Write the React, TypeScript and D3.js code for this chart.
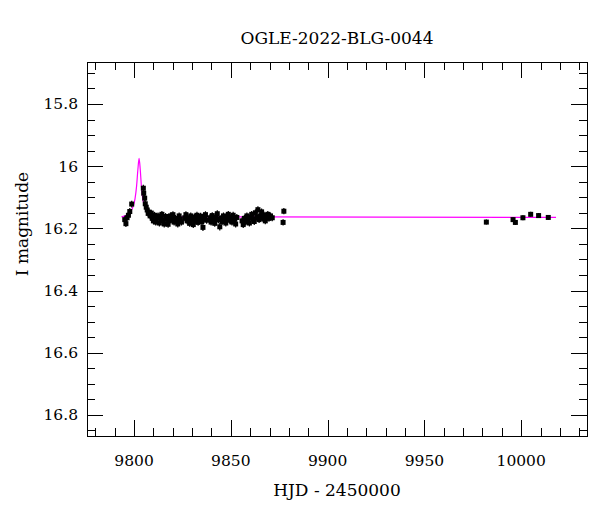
import React, { useEffect, useRef } from 'react';
import * as d3 from 'd3';

const title = 'OGLE-2022-BLG-0044';
const xLabel = 'HJD - 2450000';
const yLabel = 'I magnitude';

const xTicks = [9800, 9850, 9900, 9950, 10000];
const yTicks = [15.8, 16, 16.2, 16.4, 16.6, 16.8];

// [HJD, mag, err]
const obs: [number, number, number][] = [
  [9795.2, 16.172, 0.011], [9795.8, 16.185, 0.011], [9796.4, 16.166, 0.011], [9797.1, 16.158, 0.011],
  [9797.8, 16.146, 0.011], [9798.8, 16.122, 0.011],
  [9804.8, 16.071, 0.011], [9805.0, 16.087, 0.011], [9805.5, 16.103, 0.011], [9805.8, 16.121, 0.011],
  [9806.3, 16.132, 0.011], [9806.8, 16.141, 0.011], [9807.3, 16.152, 0.011], [9807.6, 16.148, 0.011],
  [9808.3, 16.160, 0.011], [9808.9, 16.151, 0.011], [9809.4, 16.168, 0.011], [9810.0, 16.176, 0.011],
  [9810.6, 16.158, 0.011], [9811.2, 16.180, 0.011], [9811.8, 16.166, 0.011], [9812.4, 16.160, 0.011],
  [9813.1, 16.183, 0.011], [9813.7, 16.168, 0.011], [9814.4, 16.155, 0.011], [9815.0, 16.175, 0.011],
  [9815.6, 16.186, 0.011], [9816.3, 16.162, 0.011], [9816.9, 16.171, 0.011], [9817.6, 16.187, 0.011],
  [9818.2, 16.176, 0.011], [9818.8, 16.160, 0.011], [9819.5, 16.171, 0.011], [9820.1, 16.156, 0.011],
  [9820.7, 16.180, 0.011], [9821.4, 16.168, 0.011], [9822.0, 16.175, 0.011], [9822.6, 16.186, 0.011],
  [9823.3, 16.160, 0.011], [9823.9, 16.170, 0.011], [9824.5, 16.180, 0.011],
  [9826.2, 16.166, 0.011], [9826.8, 16.156, 0.011], [9827.4, 16.176, 0.011], [9828.1, 16.169, 0.011],
  [9828.7, 16.184, 0.011], [9829.3, 16.160, 0.011], [9830.0, 16.172, 0.011], [9830.6, 16.188, 0.011],
  [9831.2, 16.164, 0.011], [9831.9, 16.176, 0.011], [9832.5, 16.158, 0.011], [9833.1, 16.181, 0.011],
  [9833.8, 16.170, 0.011], [9834.4, 16.161, 0.011], [9835.0, 16.178, 0.011], [9835.6, 16.197, 0.012],
  [9836.3, 16.168, 0.011], [9836.9, 16.156, 0.011], [9837.5, 16.174, 0.011],
  [9839.2, 16.166, 0.011], [9839.8, 16.180, 0.011], [9840.4, 16.159, 0.011], [9841.1, 16.170, 0.011],
  [9841.7, 16.184, 0.011], [9842.3, 16.164, 0.011], [9843.0, 16.153, 0.011], [9843.6, 16.173, 0.011],
  [9844.3, 16.195, 0.012], [9844.9, 16.168, 0.011], [9845.5, 16.178, 0.011], [9846.2, 16.160, 0.011],
  [9846.8, 16.170, 0.011], [9847.4, 16.183, 0.011], [9848.1, 16.164, 0.011], [9848.7, 16.155, 0.011],
  [9849.3, 16.174, 0.011], [9850.0, 16.166, 0.011], [9850.6, 16.180, 0.011], [9851.2, 16.158, 0.011],
  [9851.9, 16.171, 0.011], [9852.5, 16.186, 0.011], [9853.1, 16.165, 0.011],
  [9855.8, 16.176, 0.011], [9856.4, 16.188, 0.011], [9857.0, 16.168, 0.011], [9857.7, 16.180, 0.011],
  [9858.3, 16.160, 0.011], [9858.9, 16.172, 0.011], [9859.6, 16.183, 0.011], [9860.2, 16.164, 0.011],
  [9860.8, 16.155, 0.011], [9861.5, 16.170, 0.011], [9862.1, 16.178, 0.011], [9862.7, 16.150, 0.011],
  [9863.4, 16.165, 0.011], [9864.0, 16.140, 0.011], [9864.6, 16.172, 0.011], [9865.3, 16.160, 0.011],
  [9865.9, 16.147, 0.011], [9866.5, 16.168, 0.011], [9867.2, 16.158, 0.011], [9867.8, 16.176, 0.011],
  [9868.4, 16.163, 0.011], [9869.1, 16.155, 0.011], [9869.7, 16.168, 0.011], [9870.5, 16.160, 0.011],
  [9871.4, 16.166, 0.011],
  [9877.0, 16.181, 0.010], [9877.4, 16.145, 0.010],
  [9982.0, 16.180, 0.008], [9995.8, 16.172, 0.008], [9997.0, 16.181, 0.008], [10000.9, 16.166, 0.008],
  [10004.9, 16.155, 0.008], [10009.0, 16.159, 0.008], [10014.0, 16.165, 0.008],
];

// model curve: [HJD, mag]
const modelT = [9793.5, 9796, 9798, 9799.5, 9800.5, 9801.3, 9802, 9802.6, 9803.2, 9803.8, 9804.5, 9805.5, 9807.3, 9810, 9815, 10018];
const modelM = [16.163, 16.158, 16.148, 16.13, 16.105, 16.065, 16.01, 15.975, 16.01, 16.065, 16.105, 16.13, 16.15, 16.159, 16.163, 16.165];

const W = 600;
const H = 512;
const m = { left: 87, right: 13, top: 62, bottom: 76 };

export default function App() {
  const ref = useRef<SVGSVGElement>(null);

  useEffect(() => {
    const svg = d3.select(ref.current);
    svg.selectAll('*').remove();
    const pw = W - m.left - m.right;
    const ph = H - m.top - m.bottom;

    const x = d3.scaleLinear().domain([9775.7, 10034]).range([m.left, m.left + pw]);
    const y = d3.scaleLinear().domain([15.665, 16.868]).range([m.top, m.top + ph]);

    const font = 'DejaVu Serif, serif';
    const g = svg.append('g');

    // minor + major ticks, all four sides, inward
    const xMinor = d3.range(9780, 10031, 10);
    const yMinor = d3.range(15.7, 16.86, 0.05).map(v => +v.toFixed(2));
    const isXMaj = (v: number) => v % 50 === 0;
    const isYMaj = (v: number) => Math.abs(v * 5 - Math.round(v * 5)) < 1e-6;

    xMinor.forEach(v => {
      const len = isXMaj(v) ? 16 : 8;
      const px = Math.round(x(v)) + 0.5;
      g.append('line').attr('x1', px).attr('x2', px).attr('y1', m.top + ph).attr('y2', m.top + ph - len).attr('stroke', '#000');
      g.append('line').attr('x1', px).attr('x2', px).attr('y1', m.top).attr('y2', m.top + len).attr('stroke', '#000');
    });
    yMinor.forEach(v => {
      const len = isYMaj(v) ? 16 : 8;
      const py = Math.round(y(v)) + 0.5;
      g.append('line').attr('x1', m.left).attr('x2', m.left + len).attr('y1', py).attr('y2', py).attr('stroke', '#000');
      g.append('line').attr('x1', m.left + pw).attr('x2', m.left + pw - len).attr('y1', py).attr('y2', py).attr('stroke', '#000');
    });

    g.append('rect')
      .attr('x', m.left + 0.5).attr('y', m.top + 0.5)
      .attr('width', pw).attr('height', ph)
      .attr('fill', 'none').attr('stroke', '#000');

    // tick labels
    g.selectAll('.xt').data(xTicks).enter().append('text')
      .attr('x', d => x(d)).attr('y', m.top + ph + 30)
      .attr('text-anchor', 'middle').attr('font-family', font).attr('font-size', 15.5)
      .text(d => d);
    g.selectAll('.yt').data(yTicks).enter().append('text')
      .attr('x', m.left - 9).attr('y', d => y(d) + 5.5)
      .attr('text-anchor', 'end').attr('font-family', font).attr('font-size', 15.5)
      .text(d => d);

    g.append('text').attr('x', 337).attr('y', 44).attr('text-anchor', 'middle')
      .attr('font-family', font).attr('font-size', 17).text(title);
    g.append('text').attr('x', 337).attr('y', 496).attr('text-anchor', 'middle')
      .attr('font-family', font).attr('font-size', 17).text(xLabel);
    g.append('text').attr('transform', `translate(28,${224}) rotate(-90)`).attr('text-anchor', 'middle')
      .attr('font-family', font).attr('font-size', 17).text(yLabel);

    // model
    const line = d3.line<number>()
      .x((_, i) => x(modelT[i]))
      .y(d => y(d))
      .curve(d3.curveMonotoneX);
    g.append('path').attr('d', line(modelM)).attr('fill', 'none').attr('stroke', '#ff00ff').attr('stroke-width', 1.2);

    // data
    const pts = g.append('g');
    pts.selectAll('line').data(obs).enter().append('line')
      .attr('x1', d => x(d[0])).attr('x2', d => x(d[0]))
      .attr('y1', d => y(d[1] - d[2])).attr('y2', d => y(d[1] + d[2]))
      .attr('stroke', '#000').attr('stroke-width', 1.2);
    pts.selectAll('rect').data(obs).enter().append('rect')
      .attr('x', d => x(d[0]) - 2.5).attr('y', d => y(d[1]) - 2.5)
      .attr('width', 5).attr('height', 5).attr('fill', '#000');
  }, []);

  return <svg ref={ref} width={W} height={H} style={{ display: 'block', margin: -8 }} />;
}
